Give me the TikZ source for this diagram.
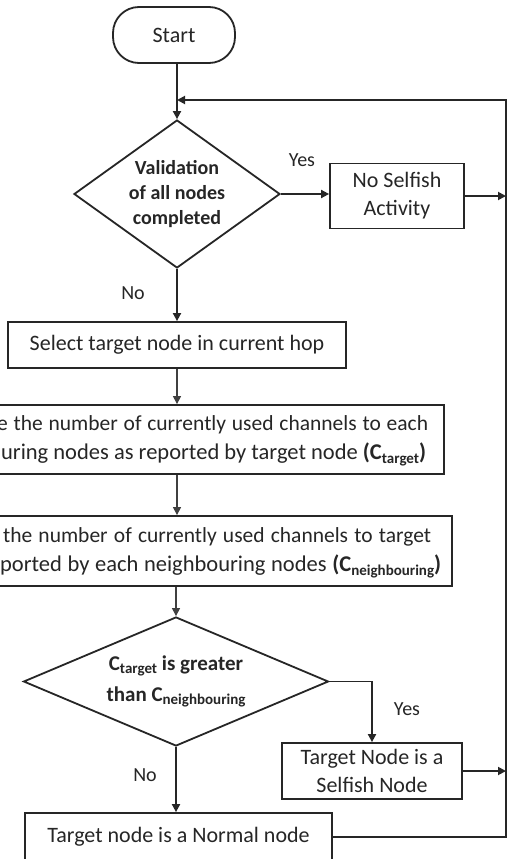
\documentclass[tikz,border=0pt]{standalone}
\usepackage{fontspec}
\setmainfont{Carlito}
\usetikzlibrary{shapes.geometric,arrows.meta}
\newcommand\subx[1]{\raisebox{-0.35ex}{\fontsize{15}{15}\selectfont #1}}
\newcommand\linebox[2]{\hbox to #1pt{#2}}
\newcommand\wider{\fontsize{22.5}{29}\selectfont}
\begin{document}
\begin{tikzpicture}[x=1pt,y=-1pt,
  every node/.style={font=\fontsize{22}{28}\selectfont, text=black!85},
  box/.style={draw=black!85, line width=1.8pt, rectangle, align=center, inner sep=0pt},
  widebox/.style={draw=black!85, line width=1.8pt, rectangle, inner sep=0pt, anchor=east, font=\fontsize{21.5}{29}\selectfont},
  decision/.style={draw=black!85, line width=1.8pt, diamond, inner sep=0pt, align=center, font=\bfseries\fontsize{20}{25}\selectfont},
  arr/.style={draw=black!85, line width=1.8pt, -{Triangle[length=8pt,width=8pt]}},
  thinarr/.style={draw=black!75, line width=1.1pt, -{Triangle[length=8pt,width=8pt]}},
  lbl/.style={font=\fontsize{20}{24}\selectfont}]
\useasboundingbox (0,0) rectangle (507,859);
\clip (0,0) rectangle (507,859);
\fill[white] (0,0) rectangle (507,859);

\node[box, rounded corners=26pt, minimum width=122pt, minimum height=56pt] (start) at (174,35) {Start};
\node[decision, aspect=1.39, minimum width=206pt, minimum height=148pt] (dia1) at (177,194) {Validation\\of all nodes\\completed};
\node[box, minimum width=134pt, minimum height=65pt] (nosel) at (397,196) {No Selfish\\Activity};
\node[box, minimum width=338pt, minimum height=46pt] (select) at (177,345) {Select target node in current hop};
\node[widebox, minimum height=69pt] (calc1) at (445,439.5)
  {\makebox[500pt][r]{\begin{tabular}{@{}r@{}}\linebox{431}{e the number of currently used channels to each}\kern16pt\\\linebox{425}{\wider uring nodes as reported by target node \textbf{(C\subx{target})}}\kern18pt\end{tabular}}};
\node[widebox, minimum height=70pt] (calc2) at (453,551)
  {\makebox[500pt][r]{\begin{tabular}{@{}r@{}}\linebox{428}{the number of currently used channels to target}\kern21pt\\\linebox{441}{\wider ported by each neighbouring nodes \textbf{(C\subx{neighbouring})}}\kern11pt\end{tabular}}};
\node[decision, aspect=2.36, font=\bfseries\fontsize{21}{31}\selectfont, minimum width=305pt, minimum height=129pt] (dia2) at (176,681.5) {C\subx{target} is greater\\than C\subx{neighbouring}};
\node[box, minimum width=180pt, minimum height=56pt] (selfish) at (372,771) {Target Node is a\\Selfish Node};
\node[box, minimum width=307pt, minimum height=48pt] (normal) at (178.5,837) {Target node is a Normal node};

\node[lbl] (yes1) at (302,160) {Yes};
\node[lbl] (no1) at (133,293) {No};
\node[lbl] (yes2) at (407,709) {Yes};
\node[lbl] (no2) at (145,775) {No};

\coordinate (rtop) at (506,100);
\coordinate (join) at (177,100);

\draw[arr] (start.south -| dia1.north) -- (dia1.north);
\draw[arr] (dia1.east) -- (dia1.east -| nosel.west);
\draw[arr] (nosel.east) -- (nosel.east -| rtop);
\draw[arr] (dia1.south) -- (dia1.south |- select.north);
\draw[thinarr] (select.south) -- (select.south |- calc1.north);
\draw[thinarr] (calc1.south -| select.south) -- (calc2.north -| select.south);
\draw[thinarr] (calc2.south -| dia2.north) -- (dia2.north);
\draw[arr] (dia2.east) -| (selfish.north);
\draw[arr] (selfish.east) -- (selfish.east -| rtop);
\draw[arr] (dia2.south) -- (dia2.south |- normal.north);
\draw[arr] (normal.east) -| (rtop) -- (join);
\end{tikzpicture}
\end{document}
